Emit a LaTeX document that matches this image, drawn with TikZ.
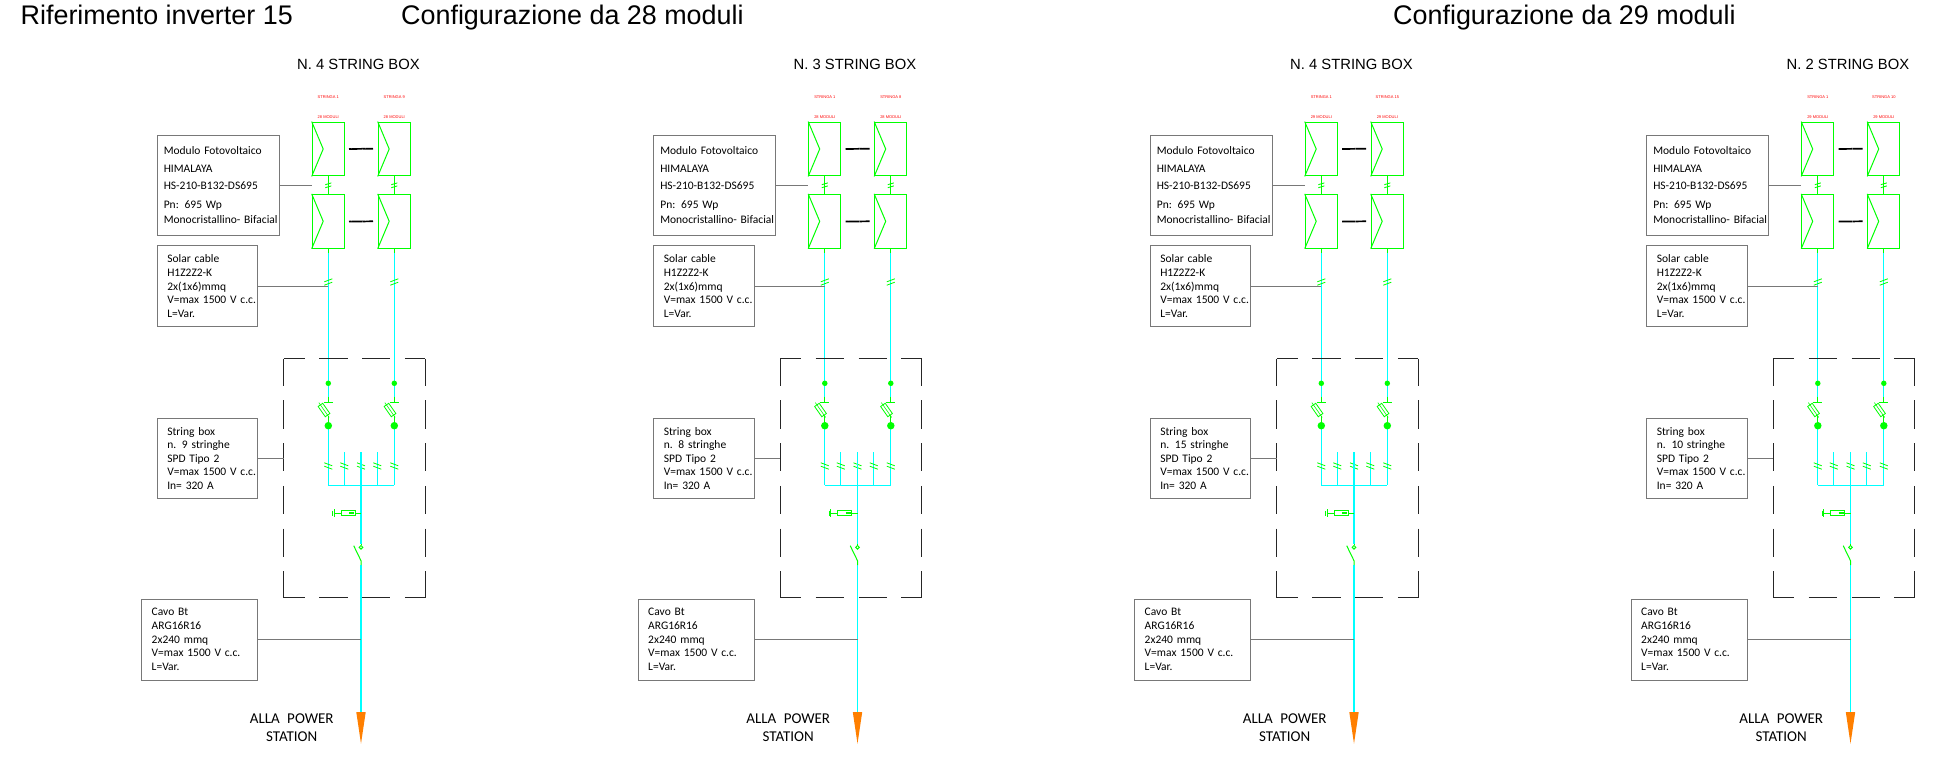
\documentclass[tikz,border=0pt]{standalone}
\usepackage{fontspec}
\setmainfont{Liberation Sans}
\newfontfamily\cadfont[WordSpace=2.2]{Carlito}
\usetikzlibrary{shapes.geometric}
\definecolor{wirecyan}{RGB}{0,255,255}
\definecolor{symgreen}{RGB}{0,255,0}
\definecolor{arroworange}{RGB}{255,127,0}
\definecolor{leadgray}{RGB}{120,120,120}
\tikzset{
  modulebox/.style={draw=symgreen,line width=1.2pt,minimum width=32pt,minimum height=53.6pt,inner sep=0pt},
  symline/.style={draw=symgreen,line width=1pt},
  wire/.style={draw=wirecyan,line width=1.3pt},
  leader/.style={draw=leadgray,line width=.7pt},
  infobox/.style={draw=leadgray,line width=.9pt,align=left,font=\cadfont\fontsize{11.5}{13.6}\selectfont,inner ysep=0pt,inner xsep=#1,anchor=center},
  infobox/.default=10pt,
  title/.style={font=\fontsize{26.9}{30}\selectfont,anchor=base west,inner sep=0pt},
  heading/.style={font=\fontsize{14.8}{16}\selectfont,anchor=base west,inner sep=0pt},
  tinyred/.style={font=\fontsize{4}{5}\selectfont,text=red,inner sep=0pt},
  powerlabel/.style={font=\cadfont\fontsize{15}{17.7}\selectfont,align=center,inner sep=0pt},
  boxdash/.style={draw=black!85,line width=.9pt,dash pattern=on 28.4pt off 14.4pt},
  gapdash/.style={draw=black,line width=1.7pt,dash pattern=on 2.5pt off .3pt},
  dot/.style={circle,fill=symgreen,inner sep=0pt,minimum size=#1},
}
\newcommand{\tickup}[2]{%
  \draw[symline,line width=.8pt] (#1-4,#2-.2)--(#1+4,#2-3.2) (#1-4,#2+3.2)--(#1+4,#2+.2);}
\newcommand{\tickdown}[2]{%
  \draw[symline,line width=.8pt] (#1-4,#2-3.2)--(#1+4,#2-.2) (#1-4,#2+.2)--(#1+4,#2+3.2);}
\newcommand{\ticksmall}[2]{%
  \draw[symline,line width=.9pt] (#1-3,#2-.6)--(#1+3,#2-2.4) (#1-3,#2+2.4)--(#1+3,#2+.6);}
\newcommand{\stringcol}[3]{% x, prefix, label
  \node[tinyred] (#2a) at (#1,97.3) {#3};
  \node[modulebox] (#2t) at (#1,149) {};
  \node[modulebox] (#2u) at (#1,221.3) {};
  \draw[symline] (#2t.north west)--([xshift=11.5pt]#2t.west)--(#2t.south west);
  \draw[symline] (#2u.north west)--([xshift=11.5pt]#2u.west)--(#2u.south west);
  \draw[symline] (#2t.south)--(#2u.north);
  \ticksmall{#1}{185.3}
  \coordinate (#2c) at (#1,253);
  \coordinate (#2d) at (#1,383.3);
  \coordinate (#2e) at (#1,396.5);
  \coordinate (#2f) at (#1,425.7);
  \coordinate (#2g) at (#1,485.3);
  \draw[symline] (#2u.south)--(#2c);
  \draw[wire] (#2c)--(#2e);
  \draw[wire] (#2f)--(#2g);
  \tickup{#1}{282}
  \node[dot=5.5pt] (#2h) at (#2d) {};
  \node[dot=7.5pt] (#2i) at (#2f) {};
  \draw[symline] (#2e)--(#1,402) (#1-4.5,402)--(#1+4.5,402);
  \begin{scope}[shift={(#1-4.3,410)},rotate=-55,transform shape]
    \node[draw=symgreen,line width=.8pt,minimum width=12.5pt,minimum height=5.6pt,inner sep=0pt] (#2j) at (0,0) {};
    \draw[symline,line width=.6pt] (-9,0)--(9,0);
  \end{scope}
  \draw[symline] (#1,415.5)--(#2i);
  \tickdown{#1}{466}
}
\newcommand{\panel}[6]{%
\begin{scope}[xshift=#1pt]
  \node[heading] (#2head) at (297,69) {N. #3 STRING BOX};
  \stringcol{328.3}{#2l}{STRINGA 1}
  \stringcol{394.3}{#2r}{STRINGA #4}
  \node[tinyred] (#2m1) at (328.3,117.3) {#5 MODULI};
  \node[tinyred] (#2m2) at (394.3,117.3) {#5 MODULI};
  \draw[gapdash] (349,149)--(373,148.7);
  \draw[gapdash] (349,221.6)--(373,221.3);
  % string box frame
  \node[minimum width=141pt,minimum height=238.3pt,inner sep=0pt] (#2sb) at (354.5,478.15) {};
  \draw[boxdash,dash phase=7.4pt] (#2sb.north west)--(#2sb.north east);
  \draw[boxdash,dash phase=7.4pt] (#2sb.south west)--(#2sb.south east);
  \draw[boxdash,dash phase=1.4pt] (#2sb.north west)--(#2sb.south west);
  \draw[boxdash,dash phase=1.4pt] (#2sb.north east)--(#2sb.south east);
  % bus and branches
  \draw[wire] (#2lg)--(#2rg);
  \coordinate (#2b1) at (344.3,452.3);
  \coordinate (#2b2) at (361,452.3);
  \coordinate (#2b3) at (377.3,452.3);
  \draw[wire] (#2b1)--(#2b1 |- #2lg);
  \draw[wire] (#2b3)--(#2b3 |- #2lg);
  \tickdown{344.3}{466}
  \tickdown{361}{466}
  \tickdown{377.3}{466}
  % main line
  \node[isosceles triangle,isosceles triangle apex angle=17,shape border rotate=-90,fill=arroworange,inner sep=0pt,minimum height=31pt,minimum width=9.4pt,anchor=apex] (#2arrow) at (361,745) {};
  \coordinate (#2sw1) at (361,544);
  \coordinate (#2sw2) at (361,560.7);
  \coordinate (#2sw3) at (361,565);
  \coordinate (#2spd) at (361,513);
  \draw[wire] (#2b2)--(#2sw1);
  \draw[wire] (#2sw3)--(#2arrow.left corner -| #2sw3);
  % SPD
  \node[draw=symgreen,line width=.9pt,minimum width=13.7pt,minimum height=5.2pt,inner sep=0pt] (#2spdbox) at (348.2,513) {};
  \draw[symline] (#2spd)--(#2spdbox.east);
  \draw[symline] (#2spdbox.west)--(334,513);
  \draw[symline] (334,509)--(334,517) (332.6,510.5)--(332.6,515.5);
  \draw[symline,line width=1.4pt] (349,513)--(354,513);
  % switch
  \node[draw=symgreen,circle,line width=1pt,minimum size=3.6pt,inner sep=0pt] (#2swc) at (361,547.3) {};
  \draw[symline] (#2sw1)--(#2swc);
  \draw[symline] (#2sw3)--(#2sw2)--(353.7,545.7);
  % info boxes
  \node[infobox=6.5pt,text width=109pt,minimum height=100.3pt] (#2i1) at (218.3,185.2) {Modulo Fotovoltaico\\[5pt]HIMALAYA\\[3.4pt]HS-210-B132-DS695\\[5pt]Pn: 695 Wp\\[1.8pt]\mbox{Monocristallino- Bifacial}};
  \node[infobox,text width=80.2pt,minimum height=81pt] (#2i2) at (207.4,286.2) {Solar cable\\H1Z2Z2-K\\2x(1x6)mmq\\\mbox{V=max 1500 V c.c.}\\L=Var.};
  \node[infobox,text width=80.2pt,minimum height=80.7pt] (#2i3) at (207.4,458.35) {String box\\n. #6 stringhe\\SPD Tipo 2\\\mbox{V=max 1500 V c.c.}\\In= 320 A};
  \node[infobox,text width=95.8pt,minimum height=81pt] (#2i4) at (199.6,639.5) {Cavo Bt\\ARG16R16\\2x240 mmq\\\mbox{V=max 1500 V c.c.}\\L=Var.};
  \draw[leader] (#2i1.east)--(#2i1.east -| #2lu.west);
  \draw[leader] (#2i2.east)--(#2i2.east -| #2lc);
  \draw[leader] (#2i3.east)--(#2i3.east -| #2sb.west);
  \draw[leader] (#2i4.east)--(#2i4.east -| #2b2);
  \node[powerlabel] (#2pw) at (291.7,728) {ALLA POWER\\STATION};
\end{scope}}
\begin{document}
\begin{tikzpicture}[x=1pt,y=-1pt]
  \useasboundingbox (0,0) rectangle (1933,758);
  \node[title] (t1) at (20.5,24) {Riferimento inverter 15};
  \node[title] (t2) at (401,24) {Configurazione da 28 moduli};
  \node[title] (t3) at (1393,24) {Configurazione da 29 moduli};
  \panel{0}{A}{4}{9}{28}{9}
  \panel{496.5}{B}{3}{8}{28}{8}
  \panel{993}{C}{4}{15}{29}{15}
  \panel{1489.5}{D}{2}{10}{29}{10}
\end{tikzpicture}
\end{document}
